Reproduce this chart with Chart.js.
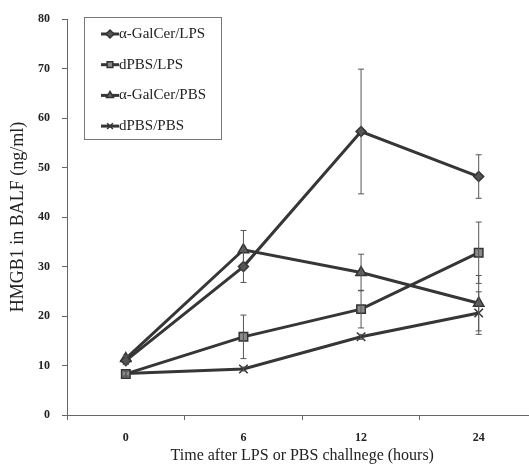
<!DOCTYPE html>
<html>
<head>
<meta charset="utf-8">
<script src="https://cdn.jsdelivr.net/npm/chart.js@4"></script>
<style>
  html, body { margin: 0; padding: 0; background: #fff; overflow: hidden; }
  #wrap { width: 529px; height: 471px; overflow: hidden; }
</style>
</head>
<body>
<div id="wrap"><canvas id="chart" width="545" height="471"></canvas></div>
<script>
// data
var hours = ["0", "6", "12", "24"];
var seriesNames = ["\u03b1-GalCer/LPS", "dPBS/LPS", "\u03b1-GalCer/PBS", "dPBS/PBS"];
var galcerLps = [11.0, 30.0, 57.3, 48.2];
var galcerLpsErr = [0.8, 3.2, 12.6, 4.4];
var pbsLps = [8.3, 15.8, 21.4, 32.8];
var pbsLpsErr = [0.6, 4.4, 3.8, 6.2];
var galcerPbs = [11.4, 33.4, 28.8, 22.6];
var galcerPbsErr = [0.7, 3.9, 3.7, 5.6];
var pbsPbs = [8.4, 9.3, 15.8, 20.6];
var pbsPbsErr = [0.5, 0.4, 0.5, 4.3];
var yTicks = [0, 10, 20, 30, 40, 50, 60, 70, 80];

var serif = "'Liberation Serif', 'DejaVu Serif', serif";
var lineCol = "#363636";

function makeSet(label, data, err, style, radius, fill) {
    return {
        label: label,
        data: data,
        errs: err,
        borderColor: lineCol,
        borderWidth: 3,
        pointStyle: style,
        pointRadius: radius,
        pointBackgroundColor: fill,
        pointBorderColor: "#333",
        pointBorderWidth: 1.5,
        tension: 0
    };
}

var datasets = [
    makeSet(seriesNames[0], galcerLps, galcerLpsErr, "rectRot", 5, "#555"),
    makeSet(seriesNames[1], pbsLps, pbsLpsErr, "rect", 6, "#8a8a8a"),
    makeSet(seriesNames[2], galcerPbs, galcerPbsErr, "triangle", 6, "#666"),
    makeSet(seriesNames[3], pbsPbs, pbsPbsErr, "crossRot", 6, "#444")
];

var errorBars = {
    id: "errorBars",
    afterDatasetsDraw: function(chart) {
        var ctx = chart.ctx;
        var ys = chart.scales.y;
        var xs = chart.scales.x;
        ctx.save();
        ctx.strokeStyle = "#555";
        ctx.lineWidth = 1;
        chart.data.datasets.forEach(function(ds) {
            ds.data.forEach(function(v, i) {
                var x = xs.getPixelForValue(i);
                var top = ys.getPixelForValue(v + ds.errs[i]);
                var bot = ys.getPixelForValue(v - ds.errs[i]);
                ctx.beginPath();
                ctx.moveTo(x, top); ctx.lineTo(x, bot);
                ctx.moveTo(x - 3, top); ctx.lineTo(x + 3, top);
                ctx.moveTo(x - 3, bot); ctx.lineTo(x + 3, bot);
                ctx.stroke();
            });
        });
        ctx.restore();
    }
};

var boxLegend = {
    id: "boxLegend",
    afterDraw: function(chart) {
        var ctx = chart.ctx;
        var left = 84, top = 17, w = 137, h = 122;
        ctx.save();
        ctx.fillStyle = "#fff";
        ctx.fillRect(left, top, w, h);
        ctx.strokeStyle = "#777";
        ctx.lineWidth = 1;
        ctx.strokeRect(left + 0.5, top + 0.5, w, h);
        ctx.font = "15px " + serif;
        ctx.textBaseline = "middle";
        chart.data.datasets.forEach(function(ds, i) {
            var y = 34 + i * 30.7;
            ctx.strokeStyle = lineCol;
            ctx.lineWidth = 3;
            ctx.beginPath();
            ctx.moveTo(101, y); ctx.lineTo(119, y);
            ctx.stroke();
            ctx.fillStyle = ds.pointBackgroundColor;
            ctx.strokeStyle = "#333";
            ctx.lineWidth = 1.5;
            Chart.helpers.drawPoint(ctx, {pointStyle: ds.pointStyle, radius: 4, rotation: 0, borderWidth: 1.5}, 110, y);
            ctx.fillStyle = "#222";
            ctx.fillText(ds.label, 119, y);
        });
        ctx.restore();
    }
};

new Chart(document.getElementById("chart"), {
    type: "line",
    data: { labels: hours, datasets: datasets },
    plugins: [errorBars, boxLegend],
    options: {
        responsive: false,
        animation: false,
        devicePixelRatio: 1,
        layout: { padding: { top: 18, right: 3, left: 0, bottom: 0 } },
        plugins: { legend: { display: false }, tooltip: { enabled: false } },
        scales: {
            x: {
                offset: true,
                grid: { offset: true, drawOnChartArea: false, tickLength: 5, color: "#666" },
                border: { color: "#666", width: 1 },
                ticks: { color: "#222", font: { family: serif, size: 12, weight: "bold" }, padding: 11, maxRotation: 0 },
                title: { display: true, text: "Time after LPS or PBS challnege (hours)", color: "#222",
                         font: { family: serif, size: 16 }, padding: { top: 0, bottom: 6 } },
                afterFit: function(s) { s.height = 56; }
            },
            y: {
                min: 0, max: 80,
                afterBuildTicks: function(s) { s.ticks = yTicks.map(function(v) { return { value: v }; }); },
                grid: { drawOnChartArea: false, tickLength: 5, color: "#666" },
                border: { color: "#666", width: 1 },
                ticks: { color: "#222", font: { family: serif, size: 12, weight: "bold" }, padding: 12 },
                title: { display: true, text: "HMGB1 in BALF (ng/ml)", color: "#222",
                         font: { family: serif, size: 18 }, padding: { top: 7, bottom: 0 } },
                afterFit: function(s) { s.width = 67; }
            }
        }
    }
});
</script>
</body>
</html>
